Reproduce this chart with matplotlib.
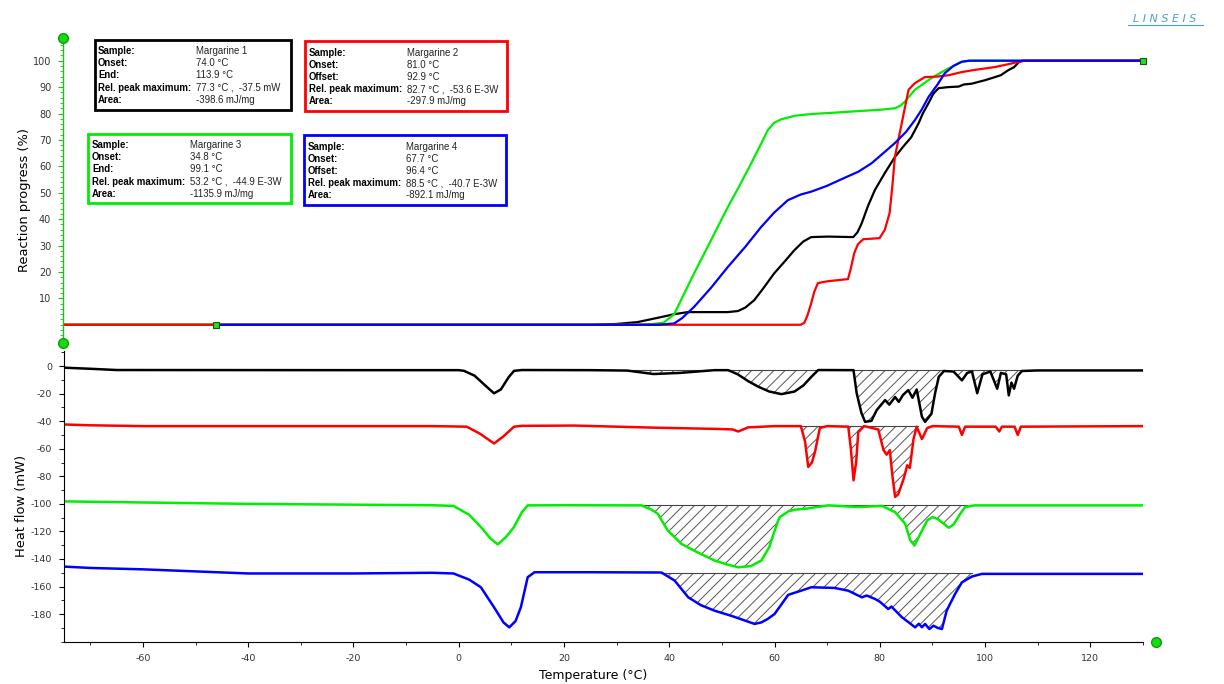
import matplotlib
matplotlib.use("Agg")
import matplotlib.pyplot as plt
import numpy as np

plt.rcParams['font.family'] = ['DejaVu Sans']
plt.rcParams['hatch.linewidth'] = 0.7
plt.rcParams['axes.unicode_minus'] = False

# ---- reaction progress (%) vs temperature (C) ----
prog_black_t = [-75, 25, 30, 34, 38.5, 41, 43.6, 51.2, 53.1, 54.5, 56.2, 58, 60, 62, 63.8, 65.5, 67, 70.2, 75,
                75.8, 76.6, 77.8, 79.1, 81, 82.9, 84.5, 86, 87.4, 88.2, 89.3, 90.2, 91.2, 93, 95, 96, 97.5, 98.8,
                100, 101.9, 103, 104.5, 105.5, 106.5, 107.5, 130]
prog_black = [0, 0, 0.3, 1, 2.9, 4, 4.8, 4.8, 5.2, 6.5, 9.3, 14, 19.5, 24, 28.2, 31.5, 33.2, 33.4, 33.2,
              35, 38.4, 45, 51, 57.5, 63.5, 67.5, 71, 76.3, 80, 84, 87.5, 89.6, 90, 90.2, 91, 91.3, 92,
              92.6, 93.8, 94.5, 96.5, 97.5, 99.6, 100, 100]

prog_red_t = [-75, 65, 65.7, 66.3, 67, 67.6, 68.3, 70.2, 74, 74.5, 75.2, 75.9, 76.9, 80, 81, 81.9, 82.4, 82.9,
              84.2, 85.5, 86.7, 88.6, 91, 93.1, 95.6, 98, 101.9, 104, 106.5, 107, 130]
prog_red = [0, 0, 0.7, 3.5, 8, 12.5, 15.8, 16.5, 17.3, 21, 27.2, 30.5, 32.4, 32.8, 36, 42.3, 52, 63.5,
            76.3, 89, 91.5, 93.8, 94, 94.5, 95.7, 96.5, 97.6, 98.5, 99.6, 100, 100]

prog_green_t = [-75, 30, 35, 37, 39, 41, 44.8, 48, 51.2, 53.5, 55.6, 57.5, 58.8, 60, 61.3, 64, 67, 72, 76.6,
                80, 82.9, 84, 84.8, 86.7, 89.3, 91, 93, 95.6, 97, 130]
prog_green = [0, 0, 0.1, 0.3, 0.8, 4, 19.5, 32, 44.6, 53, 61, 68.5, 73.8, 76.5, 77.8, 79.2, 79.8, 80.4, 81,
              81.4, 82, 83, 84.5, 89, 92.7, 94.8, 97, 99.6, 100, 100]

prog_blue_t = [-46, 38, 41, 42.5, 44.8, 48, 51.2, 54.5, 57.5, 60, 62.6, 65, 67, 70, 73.3, 76, 78.5, 81, 82.9,
               85, 86.7, 88, 89.3, 91, 92.4, 94, 95.6, 97, 130]
prog_blue = [0, 0, 0.5, 2.5, 6.8, 14, 21.9, 29.5, 37, 42.5, 47.2, 49.3, 50.4, 52.6, 55.6, 58, 61.2, 65.5, 68.8,
             73, 77.5, 81.5, 86.3, 91, 95.3, 98, 99.6, 100, 100]

# ---- heat flow (mW) vs temperature (C) ----
hf_black_t = [-75, -70, -65, -20, 0, 1, 3, 5, 6.7, 8, 9.5, 10.5, 12, 25, 32, 37, 42, 48.6, 51.2, 53, 55, 56.9,
              59, 61.3, 63.8, 65.5, 67, 68.3, 75, 75.6, 76.5, 77.2, 78.4, 79.4, 81, 81.8, 82.9, 83.6, 84.4,
              85.4, 86.2, 87, 88, 88.6, 89.8, 90.5, 91.2, 92.2, 94, 95.6, 96.6, 97.5, 98.5, 99.5, 101, 102.3,
              103, 104, 104.5, 105, 105.5, 106.2, 107, 110, 130]
hf_black = [-1.2, -2.0, -2.9, -3.0, -3.0, -3.5, -7, -14, -19.8, -17, -8, -3.5, -2.9, -3.0, -3.3, -5.8, -5.0,
            -3.0, -3.0, -6, -11, -15, -18.5, -20.4, -18.5, -14, -7.8, -2.9, -3.0, -19.7, -34, -40.5, -39.8,
            -32, -24.7, -28, -22.5, -26, -21, -17.5, -23, -17, -36.8, -40.5, -34.7, -19.7, -7.8, -3.6, -4,
            -10.4, -5, -4, -19.7, -6, -4, -16.5, -5, -6, -21.3, -12, -16.5, -7, -3.6, -3.2, -3.2]

hf_red_t = [-75, -70, -60, -5, 1.5, 4, 6.7, 8.5, 10.5, 12, 22, 37, 48.6, 52, 53.1, 55, 60, 65, 65.8, 66.4,
            67.1, 67.7, 68.6, 70, 74, 74.5, 75, 75.5, 75.9, 77, 79.7, 80.7, 81.3, 81.9, 82.4, 82.9, 83.5,
            84.6, 85.2, 85.7, 86.4, 87, 88, 89, 90, 95, 95.6, 96.2, 102, 102.7, 103.2, 105.6, 106.2, 106.8,
            130]
hf_red = [-42.4, -43.0, -43.6, -43.6, -44, -49, -56.2, -51, -44, -43.4, -43.2, -44.7, -45.6, -46, -47.5,
          -44.5, -43.6, -43.6, -55, -73.2, -70, -62, -45, -43.6, -44, -60, -82.9, -70, -48, -43.6, -46, -61,
          -64.3, -61, -80, -95, -93, -81, -72, -74, -53, -44, -53, -45, -43.6, -44, -50, -44, -44, -47.5,
          -44, -44, -50, -44, -43.6]

hf_green_t = [-75, -60, -40, -20, -5, -1, 2, 4.2, 6, 7.4, 9, 10.5, 12, 13.1, 20, 34.7, 36.5, 37.8, 39.7,
              42.3, 45, 48.6, 51, 53.1, 55.5, 56.9, 57.5, 59, 59.4, 60.7, 61, 62.6, 63.8, 66, 70.2, 75.9,
              80.4, 82.9, 84.8, 85.8, 86.6, 87.7, 89, 90, 91, 92, 93.1, 94, 95.3, 96.2, 98, 130]
hf_green = [-98.2, -99, -100, -100.6, -101, -101.5, -108, -116.8, -125, -129.4, -124, -116.8, -106, -101.1,
            -101, -101.1, -104, -107.1, -119.3, -129, -134.5, -141.1, -144, -146, -145.2, -142.3, -141.1,
            -131.4, -126.5, -112, -109.6, -105.5, -104.2, -103.5, -101.1, -102.3, -101.5, -106, -114.4,
            -126.5, -130.2, -121.7, -112, -109.6, -111, -114, -117.3, -115, -107.1, -102.3, -101.1, -101.1]

hf_blue_t = [-75, -70, -60, -50, -40, -20, -5, -1, 2, 4.2, 6.7, 8.5, 9.6, 10.8, 11.8, 13.1, 14.4, 25, 38.5,
             41, 43.6, 46, 48.6, 52, 56.2, 57.5, 58.7, 60, 62.6, 65.1, 67, 71.4, 74, 76.6, 77.5, 79.1, 80,
             81.6, 82.2, 84.2, 85.5, 86.7, 87.4, 88, 88.6, 89.4, 90.2, 91, 91.8, 92.7, 94.3, 95.6, 97.5,
             99.4, 130]
hf_blue = [-145.5, -146.5, -147.5, -149, -150.5, -150.5, -150, -150.5, -155, -160.5, -175, -186, -189.6,
           -185, -175, -153.2, -149.6, -149.6, -149.8, -155.6, -167.8, -173.5, -177.5, -181.5, -187.1, -186,
           -183.5, -179.9, -166, -162.9, -160.5, -161, -163, -167.8, -166.5, -169, -171, -176.3, -174.5,
           -182.3, -186, -189.6, -187, -189.5, -187.1, -190.8, -188.4, -190, -190.8, -177.5, -165.3, -156.9,
           -152.7, -150.8, -150.8]

# integration ranges (hatched peaks) and their baselines
areas_black = [(33, 48), (51.2, 68.3), (75, 92.2), (94, 107)]
areas_red = [(65.2, 87.2)]
areas_green = [(34.7, 96.5)]
areas_blue = [(38.5, 97.5)]
base_black, base_red, base_green, base_blue = -3.0, -43.6, -101.1, -150.3

# result boxes
box_keys = [["Sample:", "Onset:", "End:", "Rel. peak maximum:", "Area:"],
            ["Sample:", "Onset:", "Offset:", "Rel. peak maximum:", "Area:"],
            ["Sample:", "Onset:", "End:", "Rel. peak maximum:", "Area:"],
            ["Sample:", "Onset:", "Offset:", "Rel. peak maximum:", "Area:"]]
box_vals = [["Margarine 1", "74.0 °C", "113.9 °C", "77.3 °C ,  -37.5 mW", "-398.6 mJ/mg"],
            ["Margarine 2", "81.0 °C", "92.9 °C", "82.7 °C ,  -53.6 E-3W", "-297.9 mJ/mg"],
            ["Margarine 3", "34.8 °C", "99.1 °C", "53.2 °C ,  -44.9 E-3W", "-1135.9 mJ/mg"],
            ["Margarine 4", "67.7 °C", "96.4 °C", "88.5 °C ,  -40.7 E-3W", "-892.1 mJ/mg"]]

BLACK, RED, GREEN, BLUE = '#000000', '#ff0000', '#00ee00', '#0000ff'
AXGREEN = '#22bb22'

W, H = 1224, 684
fig = plt.figure(figsize=(W / 100, H / 100), dpi=100)


def px(x0, y0, x1, y1):
    # pixel box -> figure fraction [l, b, w, h]
    return [x0 / W, 1 - y1 / H, (x1 - x0) / W, (y1 - y0) / H]


xmin, xmax = -75, 130

# ---------- upper plot ----------
ax1 = fig.add_axes(px(63, 38, 1143, 343))
ax1.set_xlim(xmin, xmax)
ax1.set_ylim(-6.9, 108.6)
ax1.plot(prog_black_t, prog_black, color=BLACK, lw=1.6)
ax1.plot(prog_green_t, prog_green, color=GREEN, lw=1.6)
ax1.plot(prog_red_t, prog_red, color=RED, lw=1.6)
ax1.plot(prog_blue_t, prog_blue, color=BLUE, lw=1.6)
ax1.plot([prog_blue_t[0], prog_blue_t[-1]], [prog_blue[0], prog_blue[-1]], ls='none', marker='s', ms=5,
         mfc='#22dd22', mec='#115511', mew=0.8, clip_on=False, zorder=5)
for s in ['top', 'right', 'bottom']:
    ax1.spines[s].set_visible(False)
ax1.spines['left'].set_color(AXGREEN)
ax1.spines['left'].set_linewidth(1.0)
ax1.set_xticks([])
ax1.set_yticks(np.arange(10, 101, 10))
ax1.set_yticks(np.arange(-6, 108, 2), minor=True)
ax1.tick_params(axis='y', which='major', colors=AXGREEN, length=3.5, pad=5, labelcolor='#333333',
                labelsize=7)
ax1.tick_params(axis='y', which='minor', colors=AXGREEN, length=2)
ax1.plot([xmin, xmin], [-6.9, 108.6], ls='none', marker='o', ms=7, mfc='#11dd11', mec='#119911',
         clip_on=False, zorder=6)

# ---------- lower plot ----------
ax2 = fig.add_axes(px(64, 351, 1143, 641.7))
ax2.set_xlim(xmin, xmax)
ax2.set_ylim(-200, 10.9)

series = [(hf_black_t, hf_black, BLACK, areas_black, base_black),
          (hf_red_t, hf_red, RED, areas_red, base_red),
          (hf_green_t, hf_green, GREEN, areas_green, base_green),
          (hf_blue_t, hf_blue, BLUE, areas_blue, base_blue)]
for t, v, c, areas, base in series:
    t = np.array(t)
    v = np.array(v)
    for a, b in areas:
        m = (t >= a) & (t <= b)
        ax2.fill_between(t, v, base, where=m, interpolate=True, facecolor='none', edgecolor='#555555',
                         hatch='///', lw=0)
        ax2.plot([a, b], [base, base], color='#444444', lw=0.8)
    ax2.plot(t, v, color=c, lw=1.8)

for s in ['top', 'right']:
    ax2.spines[s].set_visible(False)
ax2.set_yticks(np.arange(-180, 1, 20))
ax2.set_yticks(np.arange(-200, 11, 10), minor=True)
ax2.set_xticks(np.arange(-60, 121, 20))
ax2.set_xticks(np.arange(-70, 131, 10), minor=True)
ax2.tick_params(which='major', length=3.5, pad=5, labelcolor='#333333', labelsize=6.8)
ax2.tick_params(which='minor', length=2)
ax2.plot([132.5], [-200], ls='none', marker='o', ms=7, mfc='#11dd11', mec='#119911', clip_on=False)

# ---------- labels ----------
fig.text(25 / W, 1 - 200 / H, "Reaction progress (%)", rotation=90, ha='center', va='center', fontsize=9.4)
fig.text(21 / W, 1 - 506 / H, "Heat flow (mW)", rotation=90, ha='center', va='center', fontsize=9.4)
fig.text(593 / W, 1 - 676 / H, "Temperature (°C)", ha='center', va='center', fontsize=9)

# ---------- result boxes ----------
boxes = [(95, 40, 291, 110, BLACK, 98, 196, 51),
         (305, 41, 507, 111, RED, 309, 407, 52.5),
         (88, 134, 291, 203, GREEN, 92, 190, 145),
         (304, 135, 506, 205, BLUE, 308, 406, 146.5)]
for (x0, y0, x1, y1, c, kx, vx, ty), keys, vals in zip(boxes, box_keys, box_vals):
    rect = plt.Rectangle((x0 / W, 1 - y1 / H), (x1 - x0) / W, (y1 - y0) / H, transform=fig.transFigure,
                         fill=False, edgecolor=c, lw=2.0)
    fig.add_artist(rect)
    for i, (k, v) in enumerate(zip(keys, vals)):
        yy = 1 - (ty + i * 12.2) / H
        fig.text(kx / W, yy, k, fontsize=6.9, fontweight='bold', va='center', ha='left',
                 family='Liberation Sans')
        fig.text(vx / W, yy, v, fontsize=6.9, va='center', ha='left', color='#222222',
                 family='Liberation Sans')

# logo
fig.text(1165 / W, 1 - 18.5 / H, "L I N S E I S", fontsize=8, style='italic', color='#4a9fd4',
         ha='center', va='center')
fig.add_artist(plt.Line2D([1128 / W, 1203 / W], [1 - 24.5 / H, 1 - 24.5 / H], color='#4a9fd4', lw=0.8,
                          transform=fig.transFigure))

fig.savefig("out.png", dpi=100)
